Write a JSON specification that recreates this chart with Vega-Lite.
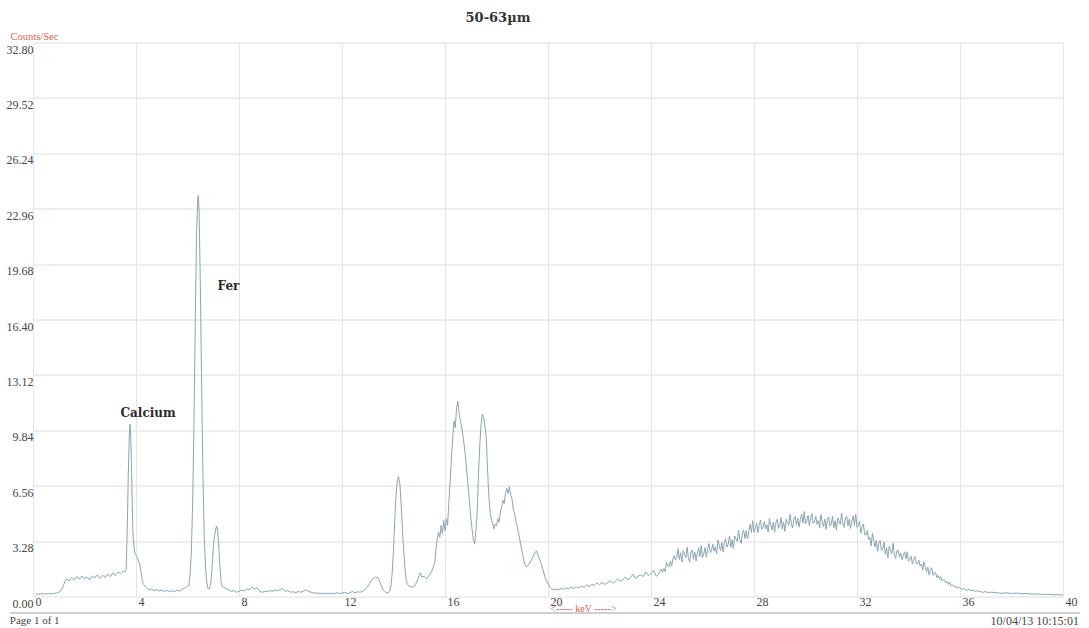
{
"$schema": "https://vega.github.io/schema/vega-lite/v6.json",
"width": 1030, "height": 554,
"autosize": "none",
"padding": {"left": 33, "top": 42.5, "right": 26, "bottom": 31.5},
"background": "white",
"config": {"view": {"stroke": null}},
"title": {"text": "50-63µm", "font": "DejaVu Serif", "fontSize": 13, "fontWeight": "bold", "color": "#333333", "anchor": "middle", "dx": -50, "offset": 6},
"datasets": {
"spectrum": [
{"e":0.1,"c":0.15},{"e":0.2,"c":0.14},{"e":0.3,"c":0.15},{"e":0.4,"c":0.16},{"e":0.5,"c":0.15},{"e":0.6,"c":0.17},{"e":0.7,"c":0.16},{"e":0.8,"c":0.18},{"e":0.9,"c":0.2},{"e":1.0,"c":0.24},
{"e":1.1,"c":0.38},{"e":1.2,"c":0.72},{"e":1.25,"c":0.95},{"e":1.3,"c":1.05},{"e":1.4,"c":0.92},{"e":1.5,"c":1.12},{"e":1.6,"c":0.98},{"e":1.7,"c":1.18},{"e":1.8,"c":1.02},{"e":1.9,"c":1.2},
{"e":2.0,"c":1.05},{"e":2.1,"c":1.16},{"e":2.2,"c":0.98},{"e":2.3,"c":1.22},{"e":2.4,"c":1.1},{"e":2.5,"c":1.28},{"e":2.6,"c":1.08},{"e":2.7,"c":1.26},{"e":2.8,"c":1.12},{"e":2.9,"c":1.32},
{"e":3.0,"c":1.18},{"e":3.1,"c":1.4},{"e":3.2,"c":1.22},{"e":3.3,"c":1.45},{"e":3.4,"c":1.35},{"e":3.5,"c":1.5},{"e":3.56,"c":1.45},{"e":3.62,"c":1.6},{"e":3.66,"c":4.0},{"e":3.7,"c":7.2},
{"e":3.74,"c":9.6},{"e":3.77,"c":10.2},{"e":3.8,"c":9.3},{"e":3.84,"c":6.5},{"e":3.88,"c":3.8},{"e":3.92,"c":3.0},{"e":3.96,"c":2.55},{"e":4.0,"c":2.45},{"e":4.05,"c":2.3},{"e":4.1,"c":2.1},
{"e":4.15,"c":1.9},{"e":4.2,"c":1.4},{"e":4.25,"c":0.9},{"e":4.3,"c":0.7},{"e":4.4,"c":0.55},{"e":4.5,"c":0.38},{"e":4.6,"c":0.45},{"e":4.7,"c":0.35},{"e":4.8,"c":0.4},{"e":4.9,"c":0.32},
{"e":5.0,"c":0.38},{"e":5.1,"c":0.3},{"e":5.2,"c":0.36},{"e":5.3,"c":0.28},{"e":5.4,"c":0.34},{"e":5.5,"c":0.3},{"e":5.6,"c":0.36},{"e":5.7,"c":0.32},{"e":5.8,"c":0.45},{"e":5.9,"c":0.5},
{"e":5.95,"c":0.55},{"e":6.0,"c":0.6},{"e":6.05,"c":0.66},{"e":6.1,"c":1.24},{"e":6.15,"c":2.66},{"e":6.2,"c":5.54},{"e":6.25,"c":10.1},{"e":6.3,"c":16.0},{"e":6.35,"c":21.3},{"e":6.4,"c":23.6},
{"e":6.42,"c":23.75},{"e":6.45,"c":22.9},{"e":6.5,"c":18.3},{"e":6.55,"c":12.4},{"e":6.6,"c":7.2},{"e":6.65,"c":3.6},{"e":6.7,"c":1.7},{"e":6.75,"c":0.8},{"e":6.8,"c":0.45},{"e":6.85,"c":0.45},
{"e":6.9,"c":0.7},{"e":6.95,"c":1.6},{"e":7.0,"c":2.9},{"e":7.05,"c":3.6},{"e":7.1,"c":4.0},{"e":7.13,"c":4.18},{"e":7.17,"c":3.9},{"e":7.2,"c":3.3},{"e":7.25,"c":2.0},{"e":7.3,"c":0.9},
{"e":7.35,"c":0.6},{"e":7.4,"c":0.55},{"e":7.5,"c":0.45},{"e":7.6,"c":0.4},{"e":7.7,"c":0.3},{"e":7.8,"c":0.35},{"e":7.9,"c":0.25},{"e":8.0,"c":0.3},{"e":8.1,"c":0.38},{"e":8.2,"c":0.33},
{"e":8.3,"c":0.45},{"e":8.4,"c":0.4},{"e":8.5,"c":0.55},{"e":8.6,"c":0.45},{"e":8.7,"c":0.52},{"e":8.8,"c":0.32},{"e":8.9,"c":0.25},{"e":9.0,"c":0.3},{"e":9.1,"c":0.28},{"e":9.2,"c":0.35},
{"e":9.3,"c":0.3},{"e":9.4,"c":0.38},{"e":9.5,"c":0.34},{"e":9.6,"c":0.4},{"e":9.7,"c":0.48},{"e":9.8,"c":0.3},{"e":9.9,"c":0.35},{"e":10.0,"c":0.25},{"e":10.1,"c":0.28},{"e":10.2,"c":0.22},
{"e":10.3,"c":0.3},{"e":10.4,"c":0.25},{"e":10.5,"c":0.32},{"e":10.6,"c":0.4},{"e":10.7,"c":0.3},{"e":10.8,"c":0.26},{"e":10.9,"c":0.2},{"e":11.0,"c":0.22},{"e":11.1,"c":0.18},{"e":11.2,"c":0.2},
{"e":11.3,"c":0.17},{"e":11.4,"c":0.19},{"e":11.5,"c":0.18},{"e":11.6,"c":0.2},{"e":11.7,"c":0.16},{"e":11.8,"c":0.22},{"e":11.9,"c":0.18},{"e":12.0,"c":0.2},{"e":12.1,"c":0.24},{"e":12.2,"c":0.18},
{"e":12.3,"c":0.22},{"e":12.4,"c":0.3},{"e":12.5,"c":0.22},{"e":12.6,"c":0.28},{"e":12.7,"c":0.25},{"e":12.8,"c":0.3},{"e":12.9,"c":0.42},{"e":13.0,"c":0.6},{"e":13.1,"c":0.85},{"e":13.2,"c":1.05},
{"e":13.3,"c":1.15},{"e":13.4,"c":1.1},{"e":13.5,"c":0.75},{"e":13.6,"c":0.4},{"e":13.7,"c":0.25},{"e":13.8,"c":0.22},{"e":13.85,"c":0.3},{"e":13.9,"c":0.6},{"e":13.95,"c":1.4},{"e":14.0,"c":2.8},
{"e":14.05,"c":4.5},{"e":14.1,"c":6.0},{"e":14.15,"c":6.9},{"e":14.2,"c":7.1},{"e":14.25,"c":6.6},{"e":14.3,"c":5.4},{"e":14.35,"c":3.9},{"e":14.4,"c":2.6},{"e":14.45,"c":1.6},{"e":14.5,"c":0.9},
{"e":14.55,"c":0.7},{"e":14.6,"c":0.62},{"e":14.7,"c":0.55},{"e":14.8,"c":0.6},{"e":14.9,"c":0.85},{"e":15.0,"c":1.25},{"e":15.05,"c":1.4},{"e":15.1,"c":1.15},{"e":15.2,"c":1.2},{"e":15.3,"c":1.05},
{"e":15.4,"c":1.3},{"e":15.5,"c":1.55},{"e":15.6,"c":2.0},{"e":15.65,"c":2.8},{"e":15.7,"c":3.4},{"e":15.75,"c":3.8},{"e":15.8,"c":3.5},{"e":15.85,"c":4.2},{"e":15.9,"c":3.7},{"e":15.95,"c":4.5},
{"e":16.0,"c":3.9},{"e":16.05,"c":4.6},{"e":16.1,"c":4.2},{"e":16.15,"c":5.6},{"e":16.2,"c":6.8},{"e":16.25,"c":8.2},{"e":16.3,"c":9.4},{"e":16.35,"c":10.4},{"e":16.4,"c":10.0},{"e":16.45,"c":11.2},
{"e":16.5,"c":11.55},{"e":16.55,"c":10.8},{"e":16.6,"c":10.4},{"e":16.65,"c":10.0},{"e":16.7,"c":9.5},{"e":16.75,"c":8.9},{"e":16.8,"c":8.2},{"e":16.85,"c":7.3},{"e":16.9,"c":6.5},{"e":16.95,"c":5.6},
{"e":17.0,"c":4.7},{"e":17.05,"c":4.0},{"e":17.1,"c":3.4},{"e":17.15,"c":3.1},{"e":17.2,"c":3.9},{"e":17.25,"c":5.0},{"e":17.3,"c":7.2},{"e":17.35,"c":8.9},{"e":17.4,"c":10.2},{"e":17.45,"c":10.8},
{"e":17.5,"c":10.6},{"e":17.55,"c":10.1},{"e":17.6,"c":9.5},{"e":17.65,"c":7.6},{"e":17.7,"c":6.0},{"e":17.75,"c":5.0},{"e":17.8,"c":4.6},{"e":17.85,"c":4.3},{"e":17.9,"c":4.0},{"e":17.95,"c":4.3},
{"e":18.0,"c":4.2},{"e":18.05,"c":4.6},{"e":18.1,"c":4.4},{"e":18.15,"c":5.0},{"e":18.2,"c":5.3},{"e":18.25,"c":5.7},{"e":18.3,"c":5.5},{"e":18.35,"c":6.1},{"e":18.4,"c":6.4},{"e":18.45,"c":6.1},
{"e":18.5,"c":6.5},{"e":18.55,"c":6.0},{"e":18.6,"c":5.8},{"e":18.65,"c":5.2},{"e":18.7,"c":4.9},{"e":18.75,"c":4.5},{"e":18.8,"c":4.2},{"e":18.85,"c":3.8},{"e":18.9,"c":3.4},{"e":18.95,"c":3.0},
{"e":19.0,"c":2.6},{"e":19.05,"c":2.2},{"e":19.1,"c":1.9},{"e":19.15,"c":1.75},{"e":19.2,"c":1.8},{"e":19.3,"c":2.0},{"e":19.4,"c":2.3},{"e":19.5,"c":2.6},{"e":19.55,"c":2.7},{"e":19.6,"c":2.5},
{"e":19.7,"c":2.1},{"e":19.8,"c":1.6},{"e":19.9,"c":1.05},{"e":20.0,"c":0.75},{"e":20.1,"c":0.5},{"e":20.2,"c":0.4},{"e":20.3,"c":0.45},{"e":20.4,"c":0.38},{"e":20.5,"c":0.48},{"e":20.6,"c":0.42},
{"e":20.7,"c":0.52},{"e":20.8,"c":0.45},{"e":20.9,"c":0.55},{"e":21.0,"c":0.48},{"e":21.1,"c":0.58},{"e":21.2,"c":0.5},{"e":21.3,"c":0.62},{"e":21.4,"c":0.55},{"e":21.5,"c":0.68},{"e":21.6,"c":0.6},
{"e":21.7,"c":0.72},{"e":21.8,"c":0.66},{"e":21.9,"c":0.8},{"e":22.0,"c":0.7},{"e":22.1,"c":0.82},{"e":22.2,"c":0.72},{"e":22.3,"c":0.78},{"e":22.4,"c":0.95},{"e":22.5,"c":0.8},{"e":22.6,"c":0.88},
{"e":22.7,"c":1.05},{"e":22.8,"c":0.9},{"e":22.9,"c":0.98},{"e":23.0,"c":1.15},{"e":23.1,"c":0.98},{"e":23.2,"c":1.12},{"e":23.3,"c":1.32},{"e":23.4,"c":1.08},{"e":23.5,"c":1.2},{"e":23.6,"c":1.28},
{"e":23.7,"c":1.18},{"e":23.8,"c":1.45},{"e":23.9,"c":1.25},{"e":24.0,"c":1.35},{"e":24.1,"c":1.55},{"e":24.2,"c":1.2},{"e":24.3,"c":1.32},
{"e":24.4,"c":1.63},{"e":24.45,"c":1.44},{"e":24.5,"c":1.66},{"e":24.55,"c":1.47},{"e":24.6,"c":2.02},{"e":24.65,"c":1.86},{"e":24.7,"c":1.75},{"e":24.75,"c":2.1},{"e":24.8,"c":1.81},{"e":24.85,"c":2.22},
{"e":24.9,"c":2.41},{"e":24.95,"c":2.16},{"e":25.0,"c":2.3},{"e":25.05,"c":2.83},{"e":25.1,"c":2.2},{"e":25.15,"c":2.59},{"e":25.2,"c":2.03},{"e":25.25,"c":2.71},{"e":25.3,"c":2.5},{"e":25.35,"c":2.29},
{"e":25.4,"c":2.93},{"e":25.45,"c":2.31},{"e":25.5,"c":2.05},{"e":25.55,"c":2.62},{"e":25.6,"c":2.74},{"e":25.65,"c":2.21},{"e":25.7,"c":2.63},{"e":25.75,"c":2.1},{"e":25.8,"c":2.57},{"e":25.85,"c":2.89},
{"e":25.9,"c":2.36},{"e":25.95,"c":3.03},{"e":26.0,"c":2.3},{"e":26.05,"c":2.53},{"e":26.1,"c":2.9},{"e":26.15,"c":2.33},{"e":26.2,"c":2.8},{"e":26.25,"c":3.13},{"e":26.3,"c":2.6},{"e":26.35,"c":2.73},
{"e":26.4,"c":3.1},{"e":26.45,"c":2.68},{"e":26.5,"c":2.95},{"e":26.55,"c":2.53},{"e":26.6,"c":3.36},{"e":26.65,"c":2.99},{"e":26.7,"c":2.72},{"e":26.75,"c":3.2},{"e":26.8,"c":2.63},{"e":26.85,"c":3.21},
{"e":26.9,"c":3.44},{"e":26.95,"c":2.92},{"e":27.0,"c":3.1},{"e":27.05,"c":3.59},{"e":27.1,"c":2.92},{"e":27.15,"c":3.36},{"e":27.2,"c":2.84},{"e":27.25,"c":3.58},{"e":27.3,"c":3.41},{"e":27.35,"c":3.25},
{"e":27.4,"c":3.93},{"e":27.45,"c":3.37},{"e":27.5,"c":3.15},{"e":27.55,"c":3.76},{"e":27.6,"c":3.92},{"e":27.65,"c":3.43},{"e":27.7,"c":3.89},{"e":27.75,"c":3.4},{"e":27.8,"c":3.91},{"e":27.85,"c":4.27},
{"e":27.9,"c":3.78},{"e":27.95,"c":4.49},{"e":28.0,"c":3.8},{"e":28.05,"c":4.01},{"e":28.1,"c":4.36},{"e":28.15,"c":3.77},{"e":28.2,"c":4.22},{"e":28.25,"c":4.53},{"e":28.3,"c":3.98},{"e":28.35,"c":4.09},
{"e":28.4,"c":4.44},{"e":28.45,"c":4.0},{"e":28.5,"c":4.25},{"e":28.55,"c":3.81},{"e":28.6,"c":4.62},{"e":28.65,"c":4.23},{"e":28.7,"c":3.94},{"e":28.75,"c":4.4},{"e":28.8,"c":3.81},{"e":28.85,"c":4.37},
{"e":28.9,"c":4.58},{"e":28.95,"c":4.04},{"e":29.0,"c":4.2},{"e":29.05,"c":4.67},{"e":29.1,"c":3.98},{"e":29.15,"c":4.4},{"e":29.2,"c":3.86},{"e":29.25,"c":4.58},{"e":29.3,"c":4.39},{"e":29.35,"c":4.21},
{"e":29.4,"c":4.87},{"e":29.45,"c":4.29},{"e":29.5,"c":4.05},{"e":29.55,"c":4.62},{"e":29.6,"c":4.74},{"e":29.65,"c":4.21},{"e":29.7,"c":4.63},{"e":29.75,"c":4.1},{"e":29.8,"c":4.57},{"e":29.85,"c":4.89},
{"e":29.9,"c":4.36},{"e":29.95,"c":5.03},{"e":30.0,"c":4.3},{"e":30.05,"c":4.48},{"e":30.1,"c":4.81},{"e":30.15,"c":4.19},{"e":30.2,"c":4.62},{"e":30.25,"c":4.9},{"e":30.3,"c":4.33},{"e":30.35,"c":4.41},
{"e":30.4,"c":4.74},{"e":30.45,"c":4.27},{"e":30.5,"c":4.5},{"e":30.55,"c":4.05},{"e":30.6,"c":4.84},{"e":30.65,"c":4.44},{"e":30.7,"c":4.13},{"e":30.75,"c":4.58},{"e":30.8,"c":3.97},{"e":30.85,"c":4.52},
{"e":30.9,"c":4.71},{"e":30.95,"c":4.16},{"e":31.0,"c":4.3},{"e":31.05,"c":4.76},{"e":31.1,"c":4.07},{"e":31.15,"c":4.48},{"e":31.2,"c":3.94},{"e":31.25,"c":4.65},{"e":31.3,"c":4.46},{"e":31.35,"c":4.27},
{"e":31.4,"c":4.93},{"e":31.45,"c":4.34},{"e":31.5,"c":4.1},{"e":31.55,"c":4.65},{"e":31.6,"c":4.74},{"e":31.65,"c":4.19},{"e":31.7,"c":4.58},{"e":31.75,"c":4.03},{"e":31.8,"c":4.47},{"e":31.85,"c":4.77},
{"e":31.9,"c":4.21},{"e":31.95,"c":4.86},{"e":32.0,"c":4.1},{"e":32.05,"c":4.2},{"e":32.1,"c":4.45},{"e":32.15,"c":3.75},{"e":32.2,"c":4.1},{"e":32.25,"c":4.3},{"e":32.3,"c":3.65},{"e":32.35,"c":3.65},
{"e":32.4,"c":3.9},{"e":32.45,"c":3.35},{"e":32.5,"c":3.5},{"e":32.55,"c":3.0},{"e":32.6,"c":3.74},{"e":32.65,"c":3.29},{"e":32.7,"c":2.93},{"e":32.75,"c":3.33},{"e":32.8,"c":2.67},{"e":32.85,"c":3.17},
{"e":32.9,"c":3.31},{"e":32.95,"c":2.71},{"e":33.0,"c":2.8},{"e":33.05,"c":3.23},{"e":33.1,"c":2.5},{"e":33.15,"c":2.88},{"e":33.2,"c":2.3},{"e":33.25,"c":2.98},{"e":33.3,"c":2.75},{"e":33.35,"c":2.53},
{"e":33.4,"c":3.15},{"e":33.45,"c":2.53},{"e":33.5,"c":2.25},{"e":33.55,"c":2.71},{"e":33.6,"c":2.75},{"e":33.65,"c":2.33},{"e":33.7,"c":2.58},{"e":33.75,"c":2.17},{"e":33.8,"c":2.46},{"e":33.85,"c":2.64},
{"e":33.9,"c":2.22},{"e":33.95,"c":2.65},{"e":34.0,"c":2.09},{"e":34.05,"c":2.19},{"e":34.1,"c":2.39},{"e":34.15,"c":1.92},{"e":34.2,"c":2.19},{"e":34.25,"c":2.36},{"e":34.3,"c":1.93},{"e":34.35,"c":1.95},
{"e":34.4,"c":2.15},{"e":34.45,"c":1.8},{"e":34.5,"c":1.92},{"e":34.55,"c":1.55},{"e":34.6,"c":2.07},{"e":34.65,"c":1.74},{"e":34.7,"c":1.47},{"e":34.75,"c":1.74},{"e":34.8,"c":1.27},{"e":34.85,"c":1.6},
{"e":34.9,"c":1.7},{"e":34.95,"c":1.26},{"e":35.0,"c":1.31},{"e":35.05,"c":1.45},{"e":35.1,"c":1.12},{"e":35.15,"c":1.25},{"e":35.2,"c":1.05},{"e":35.25,"c":1.18},{"e":35.3,"c":0.92},{"e":35.35,"c":1.0},
{"e":35.4,"c":0.98},{"e":35.45,"c":0.8},{"e":35.5,"c":0.88},{"e":35.55,"c":0.72},{"e":35.6,"c":0.85},{"e":35.65,"c":0.62},{"e":35.7,"c":0.68},{"e":35.75,"c":0.66},{"e":35.8,"c":0.55},{"e":35.85,"c":0.62},
{"e":35.9,"c":0.48},{"e":35.95,"c":0.56},{"e":36.0,"c":0.5},{"e":36.1,"c":0.42},{"e":36.15,"c":0.5},{"e":36.2,"c":0.4},{"e":36.3,"c":0.36},{"e":36.35,"c":0.44},{"e":36.4,"c":0.34},{"e":36.5,"c":0.38},
{"e":36.6,"c":0.3},{"e":36.65,"c":0.36},{"e":36.7,"c":0.27},{"e":36.8,"c":0.3},{"e":36.9,"c":0.24},{"e":37.0,"c":0.3},{"e":37.1,"c":0.22},{"e":37.2,"c":0.26},{"e":37.4,"c":0.23},{"e":37.6,"c":0.19},
{"e":37.8,"c":0.22},{"e":38.0,"c":0.18},{"e":38.2,"c":0.2},{"e":38.4,"c":0.16},{"e":38.6,"c":0.18},{"e":38.8,"c":0.14},{"e":39.0,"c":0.15},{"e":39.2,"c":0.12},{"e":39.4,"c":0.13},{"e":39.6,"c":0.1},
{"e":39.8,"c":0.11},{"e":40.0,"c":0.09}
],
"notes": [{"label":"Calcium","e":4.47,"c":10.88},{"label":"Fer","e":7.59,"c":18.36}]
},
"layer": [
{
"data": {"name": "spectrum"},
"mark": {"type": "line", "color": "#8aa5b2", "strokeWidth": 1},
"encoding": {
"x": {"field": "e", "type": "quantitative",
"scale": {"domain": [0, 40], "nice": false, "zero": false},
"axis": {"values": [0,4,8,12,16,20,24,28,32,36,40], "format": "d", "title": "<----- keV ----->",
"titleColor": "#e0604d", "titleFont": "Liberation Serif", "titleFontSize": 10, "titleFontWeight": "normal",
"titleAlign": "left", "titleX": 517, "titleY": 12, "titleBaseline": "middle",
"labelFont": "Liberation Serif", "labelFontSize": 12, "labelColor": "#444444", "labelAlign": "left", "labelBaseline": "top",
"labelOffset": 2, "labelPadding": 0, "labelFlush": false, "labelOverlap": false, "ticks": false, "domain": false,
"grid": true, "gridColor": "#e4e4e4", "gridWidth": 1}},
"y": {"field": "c", "type": "quantitative",
"scale": {"domain": [0, 32.8], "nice": false, "zero": false},
"axis": {"values": [0,3.28,6.56,9.84,13.12,16.4,19.68,22.96,26.24,29.52,32.8], "format": ".2f", "title": "Counts/Sec",
"titleAngle": 0, "titleAlign": "left", "titleBaseline": "middle", "titleX": -23, "titleY": -6.5,
"titleColor": "#e0604d", "titleFont": "Liberation Serif", "titleFontSize": 10.5, "titleFontWeight": "normal",
"labelFont": "Liberation Serif", "labelFontSize": 12, "labelColor": "#444444", "labelBaseline": "top", "labelOffset": 1.5,
"labelPadding": 0, "labelOverlap": false, "ticks": false, "domain": false,
"grid": true, "gridColor": "#dedede", "gridWidth": 1}}
}
},
{
"data": {"name": "notes"},
"mark": {"type": "text", "font": "DejaVu Serif", "fontWeight": "bold", "fontSize": 12, "color": "#2a2a2a", "align": "center", "baseline": "middle"},
"encoding": {
"x": {"field": "e", "type": "quantitative"},
"y": {"field": "c", "type": "quantitative"},
"text": {"field": "label"}
}
},
{
"data": {"values": [{}]},
"mark": {"type": "rule", "color": "#cfcfcf", "strokeWidth": 2},
"encoding": {"x": {"datum": -0.9}, "x2": {"datum": 40.66}, "y": {"datum": -0.98}}
},
{
"data": {"values": [{}]},
"mark": {"type": "text", "font": "Liberation Serif", "fontSize": 11, "color": "#444444", "align": "left", "baseline": "middle", "text": "Page 1 of 1"},
"encoding": {"x": {"datum": -0.9}, "y": {"datum": -1.45}}
},
{
"data": {"values": [{}]},
"mark": {"type": "text", "font": "Liberation Serif", "fontSize": 12, "color": "#444444", "align": "right", "baseline": "middle", "text": "10/04/13 10:15:01"},
"encoding": {"x": {"datum": 40.62}, "y": {"datum": -1.45}}
}
]
}
